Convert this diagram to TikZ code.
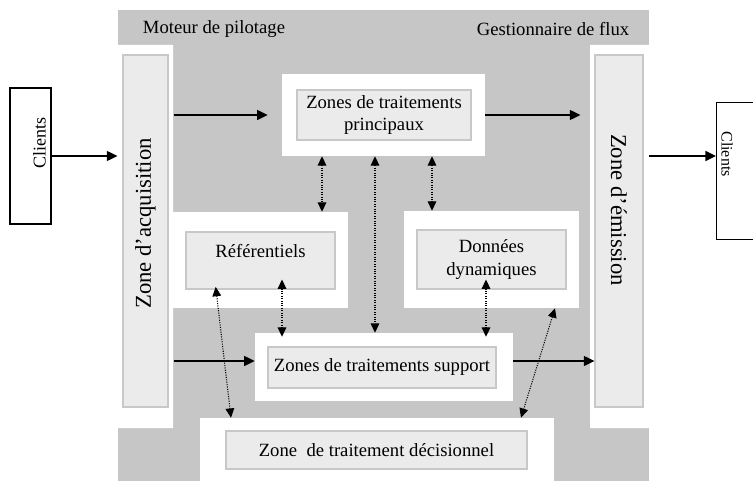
\documentclass[tikz,border=0pt]{standalone}
\usepackage{fontspec}
\setmainfont{Liberation Serif}
\usetikzlibrary{arrows.meta, fit}

\definecolor{bggray}{HTML}{C6C6C6}
\definecolor{boxfill}{HTML}{EBEBEB}
\definecolor{boxline}{HTML}{C8C8C8}

\begin{document}
\begin{tikzpicture}[x=0.75pt, y=-0.75pt,
        inbox/.style={draw=boxline, fill=boxfill, line width=0.8pt, inner sep=0pt, align=center, font=\fontsize{14}{17}\selectfont},
        zonebox/.style={fill=white, inner sep=0pt},
        clibox/.style={draw, line width=1pt, inner sep=0pt},
        flow/.style={-{Triangle[length=8pt, width=7.5pt]}, line width=1.1pt},
        link/.style={{Triangle[length=7pt, width=6.5pt]}-{Triangle[length=7pt, width=6.5pt]}, densely dotted, line width=0.8pt}]
        \useasboundingbox (0,0) rectangle (753,481);
        \fill[bggray] (118,10) rectangle (649,481);
        \fill[white] (118,45) rectangle (173,428) (590,45) rectangle (649,428);
        \foreach \n/\a/\b in {prinW/{282,74}/{485,156}, refW/{173,212}/{348,308}, donW/{404,211}/{579,308}, supW/{255,333}/{513,401}, decW/{200,418}/{554,481}} {
            \node[zonebox, fit={(\a) (\b)}] (\n) {};
        }
        \node[font=\fontsize{14}{17}\selectfont] (pilot) at (214,29) {Moteur de pilotage};
        \node[font=\fontsize{14}{17}\selectfont] (flux) at (553,29) {Gestionnaire de flux};
        
        \node[inbox, minimum width=33.75pt, minimum height=264pt, font=\fontsize{17}{20}\selectfont] (acq) at (145.5,231) {\raisebox{11.25pt}{\rotatebox{90}{Zone d'acquisition}}};
        \node[inbox, minimum width=36pt, minimum height=264pt, font=\fontsize{17}{20}\selectfont] (emi) at (619,231) {\raisebox{31.5pt}{\raisebox{\depth}{\rotatebox{-90}{Zone d'émission}}}};
        \node[inbox, minimum width=130.5pt, minimum height=37.5pt] (prin) at (384,115) {Zones de traitements\\principaux};
        \node[inbox, minimum width=111.75pt, minimum height=42.75pt, text height=10pt, text depth=15pt] (ref) at (260.5,260.5) {Référentiels};
        \node[inbox, minimum width=111.75pt, minimum height=44.25pt] (don) at (491.5,259.5) {Données\\dynamiques};
        \node[inbox, minimum width=171pt, minimum height=30.75pt] (sup) at (382,367.5) {Zones de traitements support};
        \node[inbox, minimum width=225.75pt, minimum height=28.5pt] (dec) at (376.5,450) {Zone\ \ de traitement décisionnel};
        
        \node[clibox, minimum width=30.75pt, minimum height=102pt] (cliL) at (30.5,156) {};
        \node[font=\fontsize{13.5}{15}\selectfont] (cliLtxt) at (39.5,143) {\rotatebox{90}{Clients}};
        \node[clibox, anchor=north west, minimum width=45pt, minimum height=102.75pt] (cliR) at (716,102) {};
        \node[font=\fontsize{12}{14}\selectfont] (cliRtxt) at (727,154) {\rotatebox{-90}{Clients}};
        
        % flux principaux
        \draw[flow, shorten >=3.75pt] (cliL.east) -- (cliL.east -| acq.west);
        \draw[flow, shorten <=3.75pt, shorten >=10.5pt] (acq.east |- prin) -- (prinW.west |- prin);
        \draw[flow, shorten >=10.5pt] (prinW.east |- prin) -- (emi.west |- prin);
        \draw[flow, shorten <=3.75pt] (emi.east |- cliL) -- (cliR.west |- cliL);
        \draw[flow, shorten <=3.75pt] (acq.east |- 0,361) -- (supW.west |- 0,361);
        \draw[flow] (supW.east |- 0,361) -- (emi.west |- 0,361);
        
        % echanges
        \draw[link] (322,0 |- prinW.south) -- (322,0 |- refW.north);
        \draw[link] (375,0 |- prinW.south) -- (375,0 |- supW.north);
        \draw[link] (432,0 |- prinW.south) -- (432,0 |- donW.north);
        \draw[link, shorten <=-7.5pt, shorten >=-3pt] (282,0 |- ref.south) -- (282,0 |- supW.north);
        \draw[link, shorten <=-7.5pt, shorten >=-3pt] (486,0 |- don.south) -- (486,0 |- supW.north);
        \draw[link, shorten <=-2pt] (216,0 |- ref.south) -- (231,0 |- decW.north);
        \draw[link] (555,0 |- donW.south) -- (521,0 |- decW.north);
        
    \end{tikzpicture}
\end{document}
